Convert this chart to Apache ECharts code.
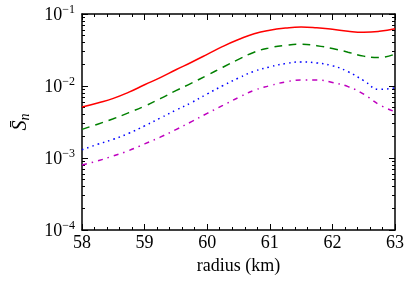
<!DOCTYPE html>
<html>
<head>
<meta charset="utf-8">
<script src="https://cdn.jsdelivr.net/npm/echarts@6/dist/echarts.min.js"></script>
<style>
html,body{margin:0;padding:0;background:#fff;}
#chart{width:413px;height:289px;}
</style>
</head>
<body>
<div id="chart"></div>
<script>
// Data
const radius = [58, 58.25, 58.5, 58.75, 59, 59.25, 59.5, 59.75, 60, 60.25, 60.5, 60.75, 61, 61.25, 61.5, 61.75, 62, 62.25, 62.5, 62.75, 63];
const sRed = [0.0051, 0.00582, 0.00673, 0.00822, 0.0104, 0.0131, 0.0168, 0.0214, 0.0275, 0.0355, 0.0442, 0.0531, 0.0596, 0.0638, 0.0658, 0.0643, 0.0612, 0.0575, 0.0558, 0.0575, 0.0625];
const sGreen = [0.0025, 0.00295, 0.00351, 0.00427, 0.00525, 0.00668, 0.00861, 0.01096, 0.0141, 0.0182, 0.0234, 0.0295, 0.0339, 0.0367, 0.0380, 0.0363, 0.0331, 0.0295, 0.0260, 0.0248, 0.0279];
const sBlue = [0.0013, 0.00155, 0.00182, 0.00221, 0.00279, 0.00359, 0.00462, 0.00589, 0.00776, 0.0101, 0.0129, 0.0160, 0.0184, 0.0205, 0.0216, 0.0209, 0.0191, 0.0158, 0.0119, 0.0090, 0.0094];
const sMagenta = [0.0008, 0.000912, 0.00107, 0.00127, 0.00157, 0.00195, 0.00248, 0.0032, 0.00417, 0.00537, 0.00692, 0.00871, 0.0101, 0.0114, 0.0121, 0.0121, 0.0112, 0.0098, 0.0077, 0.0055, 0.0044];
const xTicks = [58, 59, 60, 61, 62, 63];
const yMajorTicks = [1e-4, 1e-3, 1e-2, 1e-1];
const yMinorTicks = [];
[1e-4, 1e-3, 1e-2].forEach(d => { for (let k = 2; k <= 9; k++) yMinorTicks.push(+(d * k).toPrecision(3)); });

const FONT = 'Liberation Serif';
const FS = 18;
const BLACK = '#000';

function zip(xs, ys) { return xs.map((x, i) => [x, ys[i]]); }

const chart = echarts.init(document.getElementById('chart'), null, {renderer: 'canvas'});

const gridRect = {left: 82, right: 18, top: 14, bottom: 59};

const xBase = {
  type: 'value', min: xTicks[0], max: xTicks[xTicks.length - 1], interval: 1,
  splitLine: {show: false},
  axisLine: {show: true, lineStyle: {color: BLACK, width: 1.5}},
  axisTick: {show: true, inside: true, length: 6, lineStyle: {color: BLACK, width: 1}},
  minorTick: {show: true, splitNumber: 5, length: 3, lineStyle: {color: BLACK, width: 1}},
  minorSplitLine: {show: false}
};

const yBase = {
  type: 'log', logBase: 10, min: yMajorTicks[0], max: yMajorTicks[yMajorTicks.length - 1],
  splitLine: {show: false},
  minorTick: {show: false},
  minorSplitLine: {show: false}
};

const option = {
  backgroundColor: '#fff',
  animation: false,
  grid: [
    Object.assign({}, gridRect),
    Object.assign({}, gridRect)
  ],
  xAxis: [
    Object.assign({}, xBase, {
      gridIndex: 0, position: 'bottom',
      name: 'radius (km)', nameLocation: 'middle', nameGap: 24,
      nameTextStyle: {fontFamily: FONT, fontSize: FS, color: BLACK},
      axisLabel: {show: true, margin: 4, fontFamily: FONT, fontSize: FS, color: BLACK}
    }),
    Object.assign({}, xBase, {
      gridIndex: 0, position: 'top',
      axisLabel: {show: false}
    }),
    {type: 'value', gridIndex: 1, min: 58, max: 63, show: false}
  ],
  yAxis: [
    Object.assign({}, yBase, {
      gridIndex: 0, position: 'left',
      axisLine: {show: true, lineStyle: {color: BLACK, width: 1.5}},
      axisTick: {show: true, inside: true, length: 6, lineStyle: {color: BLACK, width: 1}},
      axisLabel: {
        show: true, margin: 7,
        formatter: function (v) {
          const e = Math.round(Math.log10(v));
          return '{b|10}{e|' + (e < 0 ? '\u2212' + (-e) : e) + '}';
        },
        rich: {
          b: {fontFamily: FONT, fontSize: FS, color: BLACK, lineHeight: 20, verticalAlign: 'bottom'},
          e: {fontFamily: FONT, fontSize: 12, color: BLACK, lineHeight: 20, verticalAlign: 'top', padding: [0, 0, 7, 0]}
        }
      },
      name: '{s|S\u0304}{n|n}', nameLocation: 'middle', nameGap: 50, nameRotate: 90,
      nameTextStyle: {
        rich: {
          s: {fontFamily: FONT, fontStyle: 'italic', fontSize: 20, color: BLACK},
          n: {fontFamily: FONT, fontStyle: 'italic', fontSize: 14, color: BLACK, verticalAlign: 'bottom', padding: [8, 0, 0, 0]}
        }
      }
    }),
    Object.assign({}, yBase, {
      gridIndex: 0, position: 'right',
      axisLine: {show: true, lineStyle: {color: BLACK, width: 1.5}},
      axisTick: {show: true, inside: true, length: 6, lineStyle: {color: BLACK, width: 1}},
      axisLabel: {show: false}
    }),
    Object.assign({}, yBase, {
      gridIndex: 1, position: 'left',
      axisLine: {show: false},
      axisTick: {show: true, inside: true, length: 3, customValues: yMinorTicks, lineStyle: {color: BLACK, width: 1}},
      axisLabel: {show: false}
    }),
    Object.assign({}, yBase, {
      gridIndex: 1, position: 'right',
      axisLine: {show: false},
      axisTick: {show: true, inside: true, length: 3, customValues: yMinorTicks, lineStyle: {color: BLACK, width: 1}},
      axisLabel: {show: false}
    })
  ],
  series: [
    {type: 'line', xAxisIndex: 0, yAxisIndex: 0, data: zip(radius, sRed), smooth: 0.5, showSymbol: false,
     lineStyle: {color: '#ff0000', width: 1.5, type: 'solid'}},
    {type: 'line', xAxisIndex: 0, yAxisIndex: 0, data: zip(radius, sGreen), smooth: 0.5, showSymbol: false,
     lineStyle: {color: '#008000', width: 1.5, type: [8, 6]}},
    {type: 'line', xAxisIndex: 0, yAxisIndex: 0, data: zip(radius, sBlue), smooth: 0.5, showSymbol: false,
     lineStyle: {color: '#0000ff', width: 1.5, type: [1.5, 4]}},
    {type: 'line', xAxisIndex: 0, yAxisIndex: 0, data: zip(radius, sMagenta), smooth: 0.5, showSymbol: false,
     lineStyle: {color: '#bf00bf', width: 1.5, type: [5, 5, 1.5, 5]}}
  ]
};

chart.setOption(option);
</script>
</body>
</html>
